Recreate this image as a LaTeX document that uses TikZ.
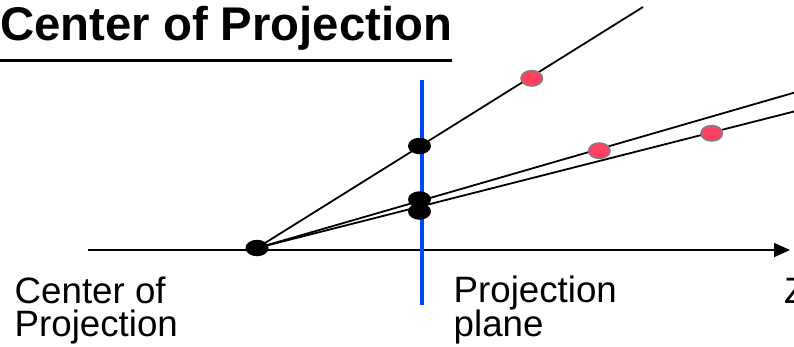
\documentclass[tikz,border=0pt]{standalone}
\usepackage{fontspec}
\setmainfont{Liberation Sans}
\usetikzlibrary{arrows.meta,shapes.geometric}
\definecolor{planeblue}{RGB}{0,72,255}
\definecolor{ptred}{RGB}{255,64,96}
\definecolor{ptgray}{RGB}{128,128,128}
\tikzset{
  ray/.style={line width=1.8pt, black},
  projdot/.style={ellipse, fill=black, inner sep=0pt, minimum width=23pt, minimum height=16.5pt},
  objdot/.style={ellipse, fill=ptred, draw=ptgray, line width=1.5pt, inner sep=0pt, minimum width=21.5pt, minimum height=15.5pt},
  lbl/.style={inner sep=0pt, anchor=base west, font=\fontsize{36.7}{36.7}\selectfont},
  ttl/.style={inner sep=0pt, anchor=base west, font=\fontsize{47.3}{47.3}\selectfont\bfseries},
}
\begin{document}
\begin{tikzpicture}[x=1pt, y=-1pt]
\useasboundingbox (0,0) rectangle (794,346);
\fill[white] (0,0) rectangle (794,346);
% title
\node[ttl] (title) at (0,40) {Center of Projection};
\draw[line width=3pt] (0,60) -- (452,60);
% axis
\coordinate (axstart) at (88,250);
\coordinate (axend) at (790,250);
\draw[line width=1.8pt, -{Triangle[length=16pt,width=14pt]}] (axstart) -- (axend);
% projection plane
\coordinate (pltop) at (422,80);
\coordinate (plbot) at (422,305);
\draw[planeblue, line width=4.5pt] (pltop) -- (plbot);
% rays
\coordinate (cop) at (257,248);
\coordinate (e1) at (643,7);
\coordinate (e2) at (794,92.7);
\coordinate (e3) at (794,111.5);
\draw[ray] (cop) -- (e1);
\draw[ray] (cop) -- (e2);
\draw[ray] (cop) -- (e3);
% projected points
\node[projdot] (c) at (cop) {};
\node[projdot] (p1) at (419.5,146) {};
\node[projdot] (p2) at (419.5,199.5) {};
\node[projdot] (p3) at (419.5,211.5) {};
% object points
\node[objdot] (o1) at (531.7,78.3) {};
\node[objdot] (o2) at (599.3,150.7) {};
\node[objdot] (o3) at (711.7,133.3) {};
% labels
\node[lbl] (l1a) at (14.5,303) {Center of};
\node[lbl] (l1b) at (14.5,336.5) {Projection};
\node[lbl] (l2a) at (453.5,302.5) {Projection};
\node[lbl] (l2b) at (453.5,336) {plane};
\node[lbl] (lz) at (784,303) {Z};
\end{tikzpicture}
\end{document}
